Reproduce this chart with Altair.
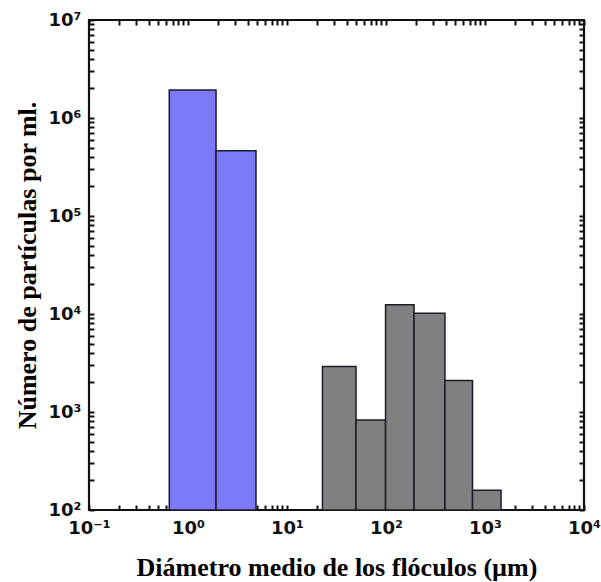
import altair as alt
import pandas as pd

# Histogram bins (bin edges in µm, counts per ml)
blue_lo = [0.647, 1.92]
blue_hi = [1.92, 4.86]
blue_n = [1.93e6, 4.64e5]

gray_lo = [22.8, 49.8, 99.0, 192.0, 394.0, 748.0]
gray_hi = [49.8, 99.0, 192.0, 394.0, 748.0, 1452.0]
gray_n = [2.92e3, 828.0, 1.24e4, 1.02e4, 2.1e3, 159.0]

groups = ["azul", "gris"]
group_colors = ["#7b7bf7", "#808080"]

x_domain = [0.1, 1e4]
y_domain = [1e2, 1e7]
x_ticks = [m * 10.0 ** e for e in range(-1, 4) for m in range(1, 10)] + [1e4]
y_ticks = [m * 10.0 ** e for e in range(2, 7) for m in range(1, 10)] + [1e7]

df = pd.DataFrame({
    "lo": blue_lo + gray_lo,
    "hi": blue_hi + gray_hi,
    "n": blue_n + gray_n,
    "g": [groups[0]] * len(blue_lo) + [groups[1]] * len(gray_lo),
})

label_expr = (
    "abs(datum.value/pow(10, round(log(datum.value)/LN10)) - 1) < 0.001 ? "
    "'10' + (round(log(datum.value)/LN10) < 0 ? '\u207b' : '') + "
    "substring('\u2070\u00b9\u00b2\u00b3\u2074\u2075\u2076\u2077\u2078\u2079', "
    "abs(round(log(datum.value)/LN10)), abs(round(log(datum.value)/LN10)) + 1) : ''"
)

W, H = 495, 490
xscale = alt.Scale(type="log", domain=x_domain, nice=False)
yscale = alt.Scale(type="log", domain=y_domain, nice=False)

bars = alt.Chart(df).mark_bar(stroke="#1c1c2a", strokeWidth=1.5).encode(
    x=alt.X("lo:Q", scale=xscale, axis=alt.Axis(
        orient="bottom", values=x_ticks, labelExpr=label_expr, offset=-5,
        tickSize=5, domain=False, labelPadding=9, labelFlush=False,
        labelOverlap=False, title="Diámetro medio de los flóculos (µm)",
        titleY=70, titleBaseline="alphabetic")),
    x2="hi:Q",
    y=alt.Y("n:Q", scale=yscale, axis=alt.Axis(
        orient="left", values=y_ticks, labelExpr=label_expr, offset=-5,
        tickSize=5, domain=False, labelPadding=8, labelOverlap=False,
        labelFlush=False, title="Número de partículas por ml.",
        titleX=-67, titleY=245, titleAngle=270, titleBaseline="middle",
        titleAlign="center")),
    y2=alt.datum(100),
    color=alt.Color("g:N", scale=alt.Scale(domain=groups, range=group_colors), legend=None),
)

frame = alt.Chart(df).mark_bar(fillOpacity=0, strokeOpacity=0).encode(
    x=alt.X("lo:Q", scale=xscale, axis=alt.Axis(
        orient="top", values=x_ticks, labels=False, offset=-5, tickSize=5,
        domain=False, title=None)),
    x2="hi:Q",
    y=alt.Y("n:Q", scale=yscale, axis=alt.Axis(
        orient="right", values=y_ticks, labels=False, offset=-5, tickSize=5,
        domain=False, title=None)),
    y2=alt.datum(100),
)

chart = alt.layer(bars, frame).resolve_axis(
    x="independent", y="independent"
).properties(
    width=W, height=H,
    padding={"left": 89, "top": 20, "right": 17, "bottom": 72},
    autosize=alt.AutoSizeParams(type="none"),
).configure_view(
    stroke="#111111", strokeWidth=2.2
).configure_axis(
    labelFont="DejaVu Sans", labelFontWeight="bold", labelFontSize=18,
    labelColor="#111111", tickColor="#111111", tickWidth=2,
    titleFont="Liberation Serif", titleFontWeight="bold", titleFontSize=26,
    titleColor="black", grid=False,
)

chart.save("out.html", embed_options={"renderer": "svg", "actions": False})
